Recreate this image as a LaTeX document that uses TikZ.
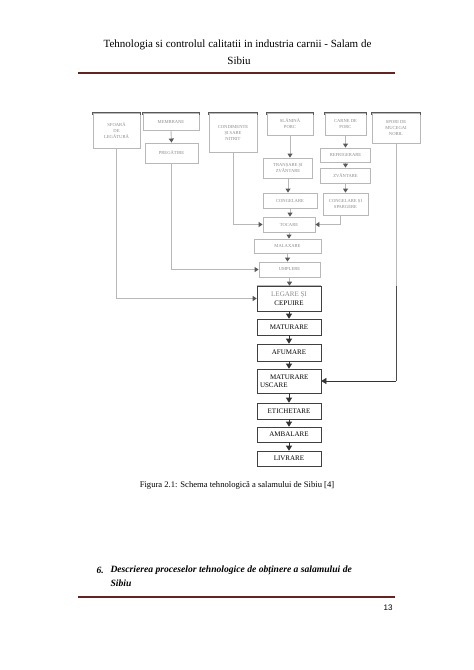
\documentclass[tikz,border=0pt]{standalone}
\usepackage{fontspec}
\setmainfont{Liberation Serif}
\newfontfamily\arialf{Liberation Sans}
\usetikzlibrary{arrows.meta}
\definecolor{rulec}{RGB}{98,36,35}
\definecolor{blurline}{gray}{0.72}
\definecolor{blurtext}{gray}{0.55}
\definecolor{blurdark}{gray}{0.35}
\begin{document}
\begin{tikzpicture}[x=1pt,y=-1pt,
  bbox/.style={draw=blurline,line width=0.9pt,text=blurtext,inner sep=0pt,align=center,
    font=\fontsize{4.6}{6}\selectfont},
  pbox/.style={draw=black!75,line width=0.6pt,inner sep=0pt,align=center,
    font=\fontsize{7}{8}\selectfont,minimum width=64pt},
  barr/.style={draw=blurline,line width=0.9pt,-{Triangle[length=4pt,width=5pt,fill=blurdark,color=blurdark]}},
  bline/.style={draw=blurline,line width=0.9pt},
  parr/.style={draw=black!80,line width=0.6pt,-{Triangle[length=5pt,width=6pt]}},
  topline/.style={draw=blurdark,line width=0.9pt},
  rulestyle/.style={draw=rulec,line width=2.4pt}]
\useasboundingbox (0,0) rectangle (474,670);
\fill[white] (0,0) rectangle (474,670);

% header
\node[font=\fontsize{11}{13}\selectfont] (h1) at (237.5,45) {Tehnologia si controlul calitatii in industria carnii - Salam de};
\node[font=\fontsize{11}{13}\selectfont] (h2) at (239,61) {Sibiu};
\coordinate (hr1) at (78,73);
\coordinate (hr2) at (395,73);
\draw[rulestyle] (hr1) -- (hr2);

% top row (blurred part)
\node[bbox,minimum width=47pt,minimum height=35pt] (b1) at (116.5,130.5) {SFOARĂ\\DE\\LEGĂTURĂ};
\node[bbox,minimum width=56pt,minimum height=17pt] (b2) at (171,121.5) {MEMBRANE};
\node[bbox,minimum width=53pt,minimum height=20pt] (b2a) at (171.5,153) {PREGĂTIRE};
\node[bbox,minimum width=48pt,minimum height=39pt] (b3) at (233,132.5) {CONDIMENTE\\ȘI SARE\\NITRIT};
\node[bbox,minimum width=46pt,minimum height=22pt] (b4) at (290,124) {SLĂNINĂ\\PORC};
\node[bbox,minimum width=49pt,minimum height=20pt] (b4a) at (288,168) {TRANȘARE ȘI\\ZVÂNTARE};
\node[bbox,minimum width=54pt,minimum height=15pt] (b4b) at (290,200.5) {CONGELARE};
\node[bbox,minimum width=41pt,minimum height=22pt] (b5) at (345.5,124) {CARNE DE\\PORC};
\node[bbox,minimum width=50pt,minimum height=14pt] (b5a) at (345.5,155) {REFRIGERARE};
\node[bbox,minimum width=50pt,minimum height=15pt] (b5b) at (345.5,175.5) {ZVÂNTARE};
\node[bbox,minimum width=45pt,minimum height=22pt] (b5c) at (345.5,204) {CONGELARE ȘI\\SPARGERE};
\node[bbox,minimum width=48pt,minimum height=30pt] (b6) at (396,128) {SPORI DE\\MUCEGAI\\NOBIL};
\node[bbox,minimum width=52pt,minimum height=15pt] (toc) at (289,224.5) {TOCARE};
\node[bbox,minimum width=67pt,minimum height=14pt] (mal) at (287.5,246) {MALAXARE};
\node[bbox,minimum width=61pt,minimum height=15pt] (ump) at (289.5,269.5) {UMPLERE};

% darker top edges of the first row
\foreach \n in {b1,b2,b3,b4,b5,b6}{
  \draw[topline] ([yshift=-2pt]\n.north west) -- (\n.north west) -- (\n.north east) -- ([yshift=-2pt]\n.north east);
}

% leg box (half visible)
\node[pbox,minimum height=25pt] (leg) at (289,298.5) {\textcolor{blurtext}{LEGARE ȘI}\\[1pt]CEPUIRE};
\draw[blurline,line width=0.9pt] (leg.north west) -- (leg.north east);

% visible boxes
\node[pbox,minimum height=16pt] (mat) at (289,327) {MATURARE};
\node[pbox,minimum height=17pt] (afu) at (289,352.5) {AFUMARE};
\node[pbox,minimum height=24pt,align=left,text width=58pt] (mus) at (289,381) {\hspace*{10pt}MATURARE\\USCARE};
\node[pbox,minimum height=16pt] (eti) at (289,411) {ETICHETARE};
\node[pbox,minimum height=15pt] (amb) at (289,434.5) {AMBALARE};
\node[pbox,minimum height=15pt] (liv) at (289,458.5) {LIVRARE};

% blurred arrows
\draw[barr] (b2.south) -- (b2a.north);
\draw[barr] (b4.south) -- (b4.south |- b4a.north);
\draw[barr] (b4a.south) -- (b4a.south |- b4b.north);
\draw[barr] (b4b.south) -- (b4b.south |- toc.north);
\draw[barr] (b5.south) -- (b5a.north);
\draw[barr] (b5a.south) -- (b5b.north);
\draw[barr] (b5b.south) -- (b5c.north);
\draw[barr] (toc.south) -- (toc.south |- mal.north);
\draw[barr] (mal.south) -- (mal.south |- ump.north);
\draw[barr] (ump.south) -- (ump.south |- leg.north);
\draw[barr] (b3.south) |- (toc.west);
\draw[barr] ([xshift=-5pt]b5c.south) |- (toc.east);
\draw[barr] (b2a.south) |- (ump.west);
\draw[barr] (b1.south) |- (leg.west);
\draw[bline] (b6.south) -- (b6.south |- leg.north);
\coordinate (b6turn) at (b6.south |- mus.east);
\draw[draw=black!70,line width=0.9pt] (b6.south |- leg.north) -- (b6turn);
\draw[parr] (b6turn) -- (mus.east);

% visible arrows
\draw[parr] (leg.south) -- (mat.north);
\draw[parr] (mat.south) -- (afu.north);
\draw[parr] (afu.south) -- (mus.north);
\draw[parr] (mus.south) -- (eti.north);
\draw[parr] (eti.south) -- (amb.north);
\draw[parr] (amb.south) -- (liv.north);

% caption
\node[font=\fontsize{8.6}{10}\selectfont] (cap) at (237,485) {Figura 2.1: Schema tehnologică a salamului de Sibiu [4]};

% section heading
\node[font=\fontsize{9.6}{11}\selectfont\bfseries\itshape,anchor=west] (sn) at (93,570) {6.};
\node[font=\fontsize{9.6}{11}\selectfont\bfseries\itshape,anchor=west] (s1) at (107,570) {Descrierea proceselor tehnologice de obținere a salamului de};
\node[font=\fontsize{9.6}{11}\selectfont\bfseries\itshape,anchor=west] (s2) at (107,583) {Sibiu};

% footer rule and page number
\coordinate (fr1) at (78,597);
\coordinate (fr2) at (395,597);
\draw[rulestyle] (fr1) -- (fr2);
\node[font=\arialf\fontsize{8}{9}\selectfont,anchor=east] (pg) at (396,608) {13};
\end{tikzpicture}
\end{document}
